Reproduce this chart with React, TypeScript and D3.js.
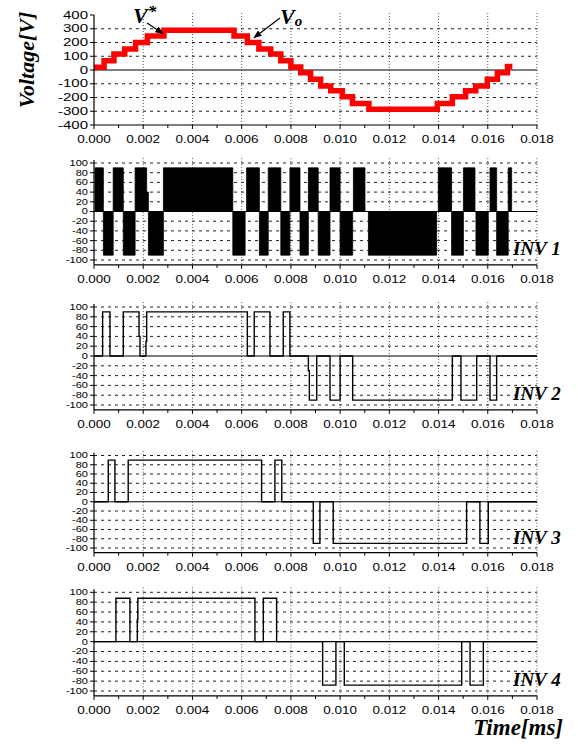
import * as d3 from "d3";
import type { ReactNode } from "react";

// Axis ticks
const timeTicks = [0, 0.002, 0.004, 0.006, 0.008, 0.01, 0.012, 0.014, 0.016, 0.018];
const timeMinorTicks = [0.001, 0.003, 0.005, 0.007, 0.009, 0.011, 0.013, 0.015, 0.017];
const voltageTicks = [400, 300, 200, 100, 0, -100, -200, -300, -400];
const invTicks = [100, 80, 60, 40, 20, 0, -20, -40, -60, -80, -100];

// Output voltage staircase: start time of each step [s] and its level [V]
const voStart = [
  0, 0.00041, 0.00081, 0.00125, 0.00169, 0.00217, 0.00284, 0.00569, 0.00623, 0.0067, 0.00718,
  0.00759, 0.008, 0.0084, 0.0088, 0.00921, 0.00962, 0.01009, 0.0105, 0.01117, 0.01395, 0.01456,
  0.0151, 0.01551, 0.01598, 0.01639, 0.0168,
];
const voLevel = [
  20, 68, 117, 153, 200, 248, 290, 248, 200, 153, 117, 68, 22, -20, -68, -117, -151, -195, -243,
  -285, -243, -195, -151, -117, -68, -20, 25,
];
const voEnd = 0.017;

// Inverter outputs: switching instants [s] and the level after each one [V]
const inv1Time = [
  0, 0.00004, 0.00038, 0.00078, 0.00119, 0.00167, 0.00214, 0.00221, 0.00282, 0.00564, 0.00614,
  0.0062, 0.00672, 0.00708, 0.00759, 0.00796, 0.00837, 0.00871, 0.00911, 0.00959, 0.01, 0.01051,
  0.01054, 0.01101, 0.01115, 0.01392, 0.01399, 0.01453, 0.01501, 0.01548, 0.01552, 0.01602,
  0.01609, 0.01636, 0.01683, 0.01697,
];
const inv1Level = [
  0, 90, -90, 90, -90, 90, 40, -90, 90, -90, 0, 90, -90, 90, -90, 90, -90, 90, -90, 90, -90, 0,
  90, 0, -90, 0, 90, -90, 90, 0, -90, 0, 90, -90, 90, 0,
];

const inv2Time = [
  0, 0.00035, 0.00065, 0.00119, 0.00183, 0.00187, 0.00211, 0.00214, 0.00623, 0.00651, 0.00715,
  0.00769, 0.00796, 0.00871, 0.00875, 0.00905, 0.00959, 0.01, 0.01051, 0.01456, 0.01491, 0.01555,
  0.01609, 0.01636,
];
const inv2Level = [
  0, 90, 0, 90, 40, 0, 30, 90, 0, 90, 0, 90, 0, -30, -90, 0, -90, 0, -90, 0, -90, 0, -90, 0,
];

const inv3Time = [
  0, 0.00058, 0.00085, 0.00139, 0.00681, 0.00735, 0.00763, 0.00891, 0.00918, 0.00972, 0.01514,
  0.01568, 0.01602,
];
const inv3Level = [0, 90, 0, 90, 0, 90, 0, -90, 0, -90, 0, -90, 0];

const inv4Time = [
  0, 0.00089, 0.00146, 0.00176, 0.00178, 0.00654, 0.00688, 0.00742, 0.00929, 0.00983, 0.01017,
  0.01494, 0.01528, 0.01582,
];
const inv4Level = [0, 88, 0, 45, 88, 0, 88, 0, -88, 0, -88, 0, -88, 0];

const X0 = 94;
const X1 = 537;
const x = d3.scaleLinear().domain([0, 0.018]).range([X0, X1]);
const fmtT = d3.format(".3f");
const SANS = "'Liberation Sans', Arial, sans-serif";
const SERIF = "'Liberation Serif', 'Times New Roman', serif";

type Scale = d3.ScaleLinear<number, number>;

const Frame = ({
  y,
  ticks,
  top,
  bottom,
  labelSize,
  stretch,
  children,
}: {
  y: Scale;
  ticks: number[];
  top: number;
  bottom: number;
  labelSize: number;
  stretch: number;
  children?: ReactNode;
}) => (
  <g>
    {timeTicks.slice(1).map(t => (
      <line key={t} x1={x(t)} x2={x(t)} y1={top - 2} y2={bottom} stroke="#555" strokeDasharray="1,2" />
    ))}
    {ticks
      .filter(v => v !== 0 && y(v) > top + 1 && y(v) < bottom - 1)
      .map(v => (
        <line key={v} x1={X0} x2={X1} y1={y(v)} y2={y(v)} stroke="#222" strokeDasharray="3,4" />
      ))}
    <line x1={X0} x2={X1} y1={y(0)} y2={y(0)} stroke="#000" strokeWidth={1.2} />
    {children}
    <line x1={X0} x2={X0} y1={top} y2={bottom} stroke="#000" strokeWidth={1.2} />
    <line x1={X0} x2={X1} y1={bottom} y2={bottom} stroke="#000" strokeWidth={1.2} />
    {ticks.map(v => (
      <g key={v}>
        <line x1={X0 - 4} x2={X0} y1={y(v)} y2={y(v)} stroke="#000" />
        <text
          transform={`translate(${X0 - 6},${y(v)}) scale(${stretch},1)`}
          dy="0.35em"
          textAnchor="end"
          fontFamily={SANS}
          fontSize={labelSize}
        >
          {v}
        </text>
      </g>
    ))}
    {timeMinorTicks.map(t => (
      <line key={t} x1={x(t)} x2={x(t)} y1={bottom} y2={bottom + 3} stroke="#000" />
    ))}
    {timeTicks.map(t => (
      <g key={t}>
        <line x1={x(t)} x2={x(t)} y1={bottom} y2={bottom + 4} stroke="#000" />
        <text
          transform={`translate(${x(t)},${bottom + 18}) scale(1.35,1)`}
          textAnchor="middle"
          fontFamily={SANS}
          fontSize={10}
        >
          {fmtT(t)}
        </text>
      </g>
    ))}
  </g>
);

const stepLine = (y: Scale) =>
  d3
    .line<[number, number]>()
    .curve(d3.curveStepAfter)
    .x(d => x(d[0]))
    .y(d => y(d[1]));

const pairs = (ts: number[], vs: number[]) => ts.map((t, i) => [t, vs[i]] as [number, number]);

// inverter panels: pixel rows of the +100 / -100 gridlines
const invPanels = [
  { label: "INV 1", p100: 163, m100: 260, t: inv1Time, v: inv1Level, filled: true },
  { label: "INV 2", p100: 307, m100: 405, t: inv2Time, v: inv2Level, filled: false },
  { label: "INV 3", p100: 455.5, m100: 548, t: inv3Time, v: inv3Level, filled: false },
  { label: "INV 4", p100: 592.3, m100: 691, t: inv4Time, v: inv4Level, filled: false },
];

const App = () => {
  const yV = d3.scaleLinear().domain([400, -400]).range([15, 125]);
  const voData = pairs(voStart, voLevel).concat([[voEnd, voLevel[voLevel.length - 1]]]);

  return (
    <svg width={578} height={747} style={{ position: "absolute", left: 0, top: 0 }}>
      <rect width={578} height={747} fill="#fff" />
      <defs>
        <marker id="arr" viewBox="0 0 10 10" refX={9} refY={5} markerWidth={7} markerHeight={7} orient="auto">
          <path d="M0,1 L10,5 L0,9 z" fill="#000" />
        </marker>
      </defs>

      {/* top: reference and staircase output voltage */}
      <Frame y={yV} ticks={voltageTicks} top={yV(400)} bottom={yV(-400)} labelSize={10} stretch={1.5}>
        <path d={stepLine(yV)(voData) ?? ""} fill="none" stroke="#ff0000" strokeWidth={5.5} />
      </Frame>
      <text
        transform="translate(34,60) rotate(-90)"
        textAnchor="middle"
        fontFamily={SERIF}
        fontWeight="bold"
        fontStyle="italic"
        fontSize={22}
      >
        Voltage[V]
      </text>
      <text x={133} y={23} fontFamily={SERIF} fontWeight="bold" fontStyle="italic" fontSize={22}>
        V
        <tspan dy={-6} fontSize={17}>
          *
        </tspan>
      </text>
      <line x1={147} y1={23} x2={x(0.0028)} y2={yV(265)} stroke="#000" strokeWidth={1.2} markerEnd="url(#arr)" />
      <text x={280} y={24} fontFamily={SERIF} fontWeight="bold" fontStyle="italic" fontSize={22}>
        V
        <tspan dy={2} fontSize={15}>
          o
        </tspan>
      </text>
      <line x1={280} y1={18} x2={x(0.0065)} y2={yV(235)} stroke="#000" strokeWidth={1.2} markerEnd="url(#arr)" />

      {invPanels.map(p => {
        const y = d3.scaleLinear().domain([100, -100]).range([p.p100, p.m100]);
        const data = pairs(p.t, p.v).concat([[0.018, 0]]);
        const area = d3
          .area<[number, number]>()
          .curve(d3.curveStepAfter)
          .x(d => x(d[0]))
          .y0(y(0))
          .y1(d => y(d[1]));
        return (
          <g key={p.label}>
            <Frame y={y} ticks={invTicks} top={y(106)} bottom={y(-110)} labelSize={8.5} stretch={1.3}>
              {p.filled ? (
                <path d={area(data) ?? ""} fill="#000" stroke="#000" strokeWidth={0.8} />
              ) : (
                <path d={stepLine(y)(data) ?? ""} fill="none" stroke="#000" strokeWidth={1.4} />
              )}
            </Frame>
            <text
              x={513}
              y={y(-80) + 5}
              fontFamily={SERIF}
              fontWeight="bold"
              fontStyle="italic"
              fontSize={19}
            >
              {p.label}
            </text>
          </g>
        );
      })}

      <text x={563} y={735} textAnchor="end" fontFamily={SERIF} fontWeight="bold" fontStyle="italic" fontSize={23}>
        Time[ms]
      </text>
    </svg>
  );
};

export default App;
